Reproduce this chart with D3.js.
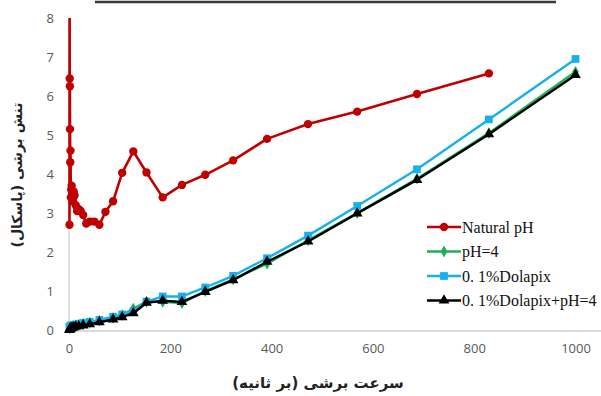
<!DOCTYPE html>
<html>
<head>
<meta charset="utf-8">
<script src="https://cdn.jsdelivr.net/npm/d3@7"></script>
<style>
  body { margin: 0; background: #fff; }
  svg { display: block; }
</style>
</head>
<body>
<svg id="chart" width="601" height="396"></svg>
<script>
// shear rates (1/s)
const rateRed = [1.0, 1.2, 1.4, 1.7, 2.0, 2.5, 3.0, 3.6, 4.3, 5.2, 6.3, 7.6, 9.2, 11, 13.3, 16, 19.4, 23, 28, 34, 41, 50, 60, 72, 87, 105, 127, 153, 185, 223, 269, 324, 391, 472, 569, 687, 829];
const naturalPH = [2.7, 9.0, 6.45, 6.25, 5.15, 4.3, 4.6, 3.4, 3.6, 3.7, 3.5, 3.3, 3.55, 3.45, 3.2, 3.05, 3.1, 3.05, 2.95, 2.73, 2.78, 2.78, 2.7, 3.03, 3.3, 4.03, 4.58, 4.04, 3.4, 3.72, 3.98, 4.35, 4.9, 5.28, 5.6, 6.05, 6.58];

const rate = [1.0, 1.4, 2.0, 3.0, 4.3, 6.3, 9.2, 13.3, 19.4, 28, 41, 60, 87, 105, 127, 153, 185, 223, 269, 324, 391, 472, 569, 687, 829, 1000];
const pH4 = [0.04, 0.05, 0.06, 0.07, 0.08, 0.09, 0.1, 0.12, 0.13, 0.16, 0.19, 0.24, 0.31, 0.38, 0.55, 0.72, 0.72, 0.69, 1.0, 1.3, 1.7, 2.3, 3.0, 3.88, 5.05, 6.62];
const dolapix = [0.07, 0.08, 0.09, 0.1, 0.11, 0.12, 0.13, 0.14, 0.16, 0.18, 0.21, 0.26, 0.34, 0.4, 0.48, 0.73, 0.86, 0.86, 1.09, 1.39, 1.84, 2.42, 3.18, 4.12, 5.4, 6.95];
const dolapixPH4 = [0.0, 0.02, 0.03, 0.04, 0.05, 0.06, 0.07, 0.09, 0.1, 0.12, 0.15, 0.2, 0.27, 0.33, 0.43, 0.7, 0.75, 0.72, 0.98, 1.28, 1.75, 2.27, 2.99, 3.85, 5.02, 6.54];

const xTicks = [0, 200, 400, 600, 800, 1000];
const yTicks = [0, 1, 2, 3, 4, 5, 6, 7, 8];

const seriesNames = ["Natural pH", "pH=4", "0. 1%Dolapix", "0. 1%Dolapix+pH=4"];
const seriesColors = ["#c00000", "#1fae55", "#18b0ec", "#000000"];

const svg = d3.select("#chart");

const x = d3.scaleLinear().domain([0, 1000]).range([69, 575.5]);
const y = d3.scaleLinear().domain([0, 8]).range([330, 18]);

// top rule left over from the page
svg.append("line")
    .attr("x1", 95).attr("x2", 556)
    .attr("y1", 2).attr("y2", 2)
    .attr("stroke", "#3a3a3a").attr("stroke-width", 2.5);

svg.append("defs").append("clipPath").attr("id", "plot")
    .append("rect").attr("x", 0).attr("y", y(8)).attr("width", 601).attr("height", y(0) - y(8) + 10);

// axis lines
svg.append("line")
    .attr("x1", x(0)).attr("x2", 601)
    .attr("y1", 331).attr("y2", 331)
    .attr("stroke", "#cfcfcf").attr("stroke-width", 1.3);
svg.append("line")
    .attr("x1", x(0)).attr("x2", x(0))
    .attr("y1", y(8)).attr("y2", 331)
    .attr("stroke", "#cfcfcf").attr("stroke-width", 1.3);

const xAxis = svg.append("g")
    .attr("transform", "translate(0, 340)")
    .call(d3.axisBottom(x).tickValues(xTicks).tickFormat(d3.format("d")).tickSize(0).tickPadding(4));
xAxis.select(".domain").remove();
xAxis.selectAll("text")
    .attr("fill", "#595959")
    .style("font-family", "'Open Sans', sans-serif")
    .style("font-size", "13px");

const yAxis = svg.append("g")
    .attr("transform", "translate(57, 0)")
    .call(d3.axisLeft(y).tickValues(yTicks).tickSize(0).tickPadding(3));
yAxis.select(".domain").remove();
yAxis.selectAll("text")
    .attr("fill", "#595959")
    .style("font-family", "'Open Sans', sans-serif")
    .style("font-size", "13px");

// axis titles
svg.append("text")
    .attr("x", 318).attr("y", 388)
    .attr("text-anchor", "middle")
    .attr("direction", "rtl")
    .style("font-family", "'DejaVu Sans', sans-serif")
    .style("font-size", "15px")
    .style("font-weight", "bold")
    .attr("fill", "#222")
    .text("سرعت برشی (بر ثانیه)");

svg.append("text")
    .attr("transform", "translate(22, 175) rotate(-90)")
    .attr("text-anchor", "middle")
    .attr("direction", "rtl")
    .style("font-family", "'DejaVu Sans', sans-serif")
    .style("font-size", "14px")
    .style("font-weight", "bold")
    .attr("fill", "#222")
    .text("تنش برشی (پاسکال)");

const symbols = [d3.symbolCircle, d3.symbolDiamond, d3.symbolSquare, d3.symbolTriangle];
const symbolSizes = [55, 40, 60, 50];

const seriesData = [
    rateRed.map((r, i) => [r, naturalPH[i]]),
    rate.map((r, i) => [r, pH4[i]]),
    rate.map((r, i) => [r, dolapix[i]]),
    rate.map((r, i) => [r, dolapixPH4[i]])
];

const line = d3.line().x(d => x(d[0])).y(d => y(d[1]));
const plot = svg.append("g").attr("clip-path", "url(#plot)");

seriesData.forEach((data, k) => {
    plot.append("path")
        .datum(data)
        .attr("d", line)
        .attr("fill", "none")
        .attr("stroke", seriesColors[k])
        .attr("stroke-width", k === 0 ? 2.6 : 2.4)
        .attr("stroke-linejoin", "round");

    plot.selectAll(".m" + k)
        .data(data)
        .join("path")
        .attr("class", "m" + k)
        .attr("transform", d => `translate(${x(d[0])}, ${y(d[1])})`)
        .attr("d", d3.symbol().type(symbols[k]).size(symbolSizes[k]))
        .attr("fill", seriesColors[k]);
});

// legend
const legend = svg.append("g").attr("transform", "translate(427, 227)");
seriesNames.forEach((name, k) => {
    const g = legend.append("g").attr("transform", `translate(0, ${k * 24.5})`);
    g.append("line")
        .attr("x1", 0).attr("x2", 34)
        .attr("stroke", seriesColors[k]).attr("stroke-width", 2.6);
    g.append("path")
        .attr("transform", "translate(17, 0)")
        .attr("d", d3.symbol().type(symbols[k]).size(symbolSizes[k]))
        .attr("fill", seriesColors[k]);
    g.append("text")
        .attr("x", 35).attr("y", 5.5)
        .style("font-family", "'Liberation Serif', serif")
        .style("font-size", "16px")
        .attr("fill", "#111")
        .text(name);
});
</script>
</body>
</html>
